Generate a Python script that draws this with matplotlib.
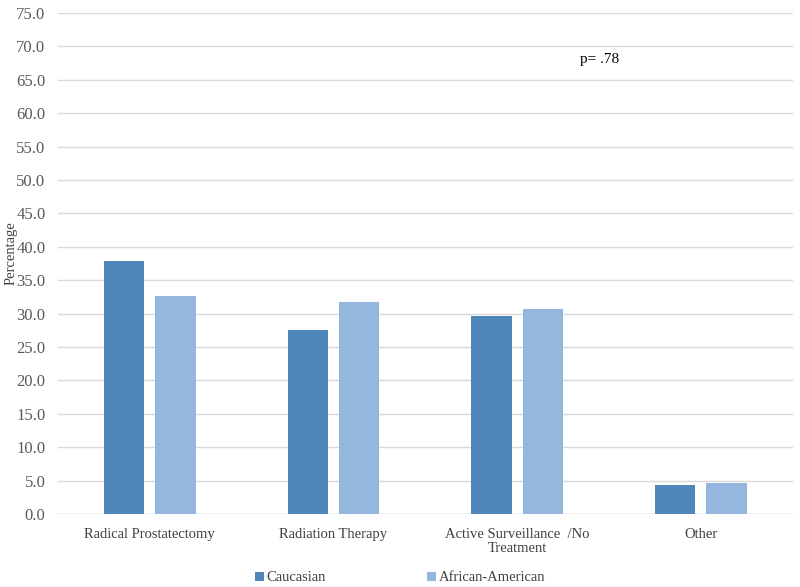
import matplotlib.pyplot as plt
import numpy as np

categories = ['Radical Prostatectomy', 'Radiation Therapy',
              'Active Surveillance  /No\nTreatment', 'Other']
caucasian = [37.9, 27.6, 29.7, 4.3]
african_american = [32.6, 31.7, 30.7, 4.6]
yticks = np.arange(0, 80, 5)

plt.rcParams['font.family'] = ['Liberation Serif', 'DejaVu Serif']

fig = plt.figure(figsize=(8, 5.87), dpi=100)
ax = fig.add_axes([0.0725, 0.1244, 0.9185, 0.8535])

x = np.arange(len(categories))
w = 0.22
ax.bar(x - 0.14, caucasian, w, color='#4F86BA', label='Caucasian', zorder=3)
ax.bar(x + 0.14, african_american, w, color='#95B6DE', label='African-American', zorder=3)

ax.set_xlim(-0.5, 3.5)
ax.set_ylim(0, 75)
ax.set_yticks(yticks)
ax.set_yticklabels([f'{v:.1f}' for v in yticks], fontsize=12, color='#595959')
ax.set_xticks(x)
ax.set_xticklabels(categories, fontsize=10.5, color='#404040', linespacing=1.1)
ax.tick_params(axis='y', length=0, pad=9)
ax.tick_params(axis='x', length=0, pad=10)
ax.grid(axis='y', color='#D9D9D9', linewidth=1, zorder=0)
for s in ax.spines.values():
    s.set_visible(False)
ax.axhline(0, color='#D9D9D9', linewidth=1, zorder=1)

fig.text(0.0145, 0.569, 'Percentage', fontsize=10.5, color='#404040',
         rotation=90, ha='center', va='center')
ax.text(2.45, 68, 'p= .78', fontsize=11, color='black', ha='center', va='center')

fig.legend(loc='lower center', bbox_to_anchor=(0.5, -0.018), ncol=2, frameon=False,
           fontsize=10.5, handlelength=0.6, handleheight=0.6, handletextpad=0.2,
           columnspacing=6.9, labelcolor='#404040')

fig.savefig('out.png', dpi=100)
